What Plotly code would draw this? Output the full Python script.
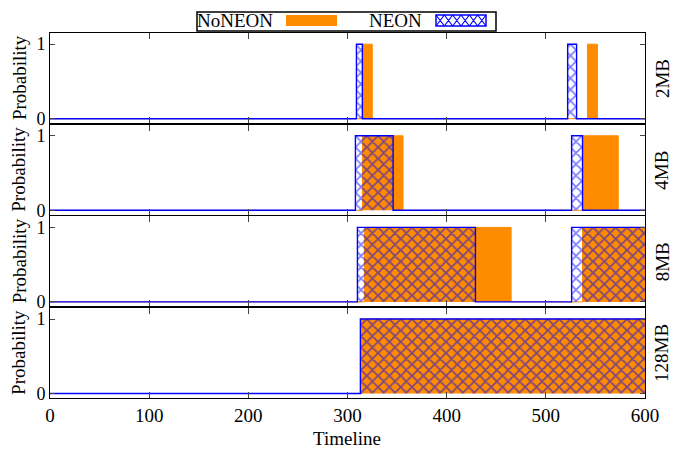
import plotly.graph_objects as go
from plotly.subplots import make_subplots

# ---- data: step change points (timeline) and probability values ----
panel_labels = ["2MB", "4MB", "8MB", "128MB"]

neon_2mb_t = [0, 309, 315, 522, 531, 600]
neon_2mb_p = [0, 1, 0, 1, 0, 0]
noneon_2mb_t = [0, 315, 325, 542, 552, 600]
noneon_2mb_p = [0, 1, 0, 1, 0, 0]

neon_4mb_t = [0, 308, 346, 526, 537, 600]
neon_4mb_p = [0, 1, 0, 1, 0, 0]
noneon_4mb_t = [0, 315, 356, 537, 573, 600]
noneon_4mb_p = [0, 1, 0, 1, 0, 0]

neon_8mb_t = [0, 310, 429, 526, 600]
neon_8mb_p = [0, 1, 0, 1, 1]
noneon_8mb_t = [0, 317, 465, 537, 600]
noneon_8mb_p = [0, 1, 0, 1, 1]

neon_128mb_t = [0, 313, 600]
neon_128mb_p = [0, 1, 1]
noneon_128mb_t = [0, 314, 600]
noneon_128mb_p = [0, 1, 1]

x_ticks = [0, 100, 200, 300, 400, 500, 600]

ORANGE = "#FF8C00"
BLUE = "#0000FF"
FONT = "Liberation Serif"
FS = 19

W, H = 675, 451
ML, MR, MT, MB = 50, 30, 33, 53
PW, PH = W - ML - MR, H - MT - MB


def px(x):
    return (x - ML) / PW


def py(y):
    return (H - MB - y) / PH


panels = [
    (neon_2mb_t, neon_2mb_p, noneon_2mb_t, noneon_2mb_p),
    (neon_4mb_t, neon_4mb_p, noneon_4mb_t, noneon_4mb_p),
    (neon_8mb_t, neon_8mb_p, noneon_8mb_t, noneon_8mb_p),
    (neon_128mb_t, neon_128mb_p, noneon_128mb_t, noneon_128mb_p),
]

fig = make_subplots(rows=4, cols=1, shared_xaxes=True, vertical_spacing=0.004)

for i, (nt, npv, ot, opv) in enumerate(panels, start=1):
    fig.add_trace(go.Scatter(
        x=ot, y=opv, mode="lines", line=dict(shape="hv", color=ORANGE, width=1),
        fill="tozeroy", fillcolor=ORANGE, name="NoNEON", showlegend=False,
        hoverinfo="skip"), row=i, col=1)
    fig.add_trace(go.Scatter(
        x=nt, y=npv, mode="lines", line=dict(shape="hv", color=BLUE, width=1.4),
        fill="tozeroy", fillcolor="rgba(0,0,0,0)",
        fillpattern=dict(shape="x", fgcolor=BLUE, size=8, solidity=0.4),
        name="NEON", showlegend=False, hoverinfo="skip"), row=i, col=1)

for i in range(1, 5):
    fig.update_yaxes(row=i, col=1, range=[-0.06, 1.15], tickvals=[0, 1],
                     ticktext=["0", "1"], ticks="inside", ticklen=5,
                     showline=True, mirror="ticks", linecolor="black",
                     linewidth=1, showgrid=False, zeroline=False,
                     tickfont=dict(family=FONT, size=18, color="black"))
    fig.update_xaxes(row=i, col=1, range=[0, 600], tickvals=x_ticks,
                     ticks="inside", ticklen=6, showline=True, mirror="ticks",
                     linecolor="black", linewidth=1, showgrid=False,
                     zeroline=False, showticklabels=(i == 4),
                     tickfont=dict(family=FONT, size=FS, color="black"))

annotations = []
# y titles and right labels
for i, lab in enumerate(panel_labels, start=1):
    dom = fig.layout["yaxis" if i == 1 else f"yaxis{i}"].domain
    yc = (dom[0] + dom[1]) / 2
    annotations.append(dict(x=px(19), y=yc, xref="paper", yref="paper",
                            text="Probability", textangle=-90, showarrow=False,
                            xanchor="center", yanchor="middle",
                            font=dict(family=FONT, size=FS, color="black")))
    annotations.append(dict(x=px(662), y=yc, xref="paper", yref="paper",
                            text=lab, textangle=-90, showarrow=False,
                            xanchor="center", yanchor="middle",
                            font=dict(family=FONT, size=FS, color="black")))

annotations.append(dict(x=px(347), y=py(438), xref="paper", yref="paper",
                        text="Timeline", showarrow=False, xanchor="center",
                        yanchor="middle",
                        font=dict(family=FONT, size=FS, color="black")))

# legend (manual, gnuplot style: text then sample)
annotations.append(dict(x=px(275), y=py(21), xref="paper", yref="paper",
                        text="NoNEON", showarrow=False, xanchor="right",
                        yanchor="middle",
                        font=dict(family=FONT, size=FS, color="black")))
annotations.append(dict(x=px(424), y=py(21), xref="paper", yref="paper",
                        text="NEON", showarrow=False, xanchor="right",
                        yanchor="middle",
                        font=dict(family=FONT, size=FS, color="black")))

shapes = []
shapes.append(dict(type="rect", xref="paper", yref="paper",
                   x0=px(197), x1=px(496), y0=py(31), y1=py(12),
                   line=dict(color="black", width=1.5), fillcolor="white",
                   layer="above"))
shapes.append(dict(type="rect", xref="paper", yref="paper",
                   x0=px(286), x1=px(337), y0=py(26), y1=py(15),
                   line=dict(color=ORANGE, width=0), fillcolor=ORANGE,
                   layer="above"))
# crosshatch swatch
sx0, sx1, sy0, sy1 = 436, 486, 15, 26
step = (sx1 - sx0) / 6
path = ""
for k in range(6):
    a = sx0 + k * step
    b = a + step
    path += f"M{px(a)},{py(sy0)} L{px(b)},{py(sy1)} "
    path += f"M{px(a)},{py(sy1)} L{px(b)},{py(sy0)} "
shapes.append(dict(type="path", xref="paper", yref="paper", path=path,
                   line=dict(color=BLUE, width=1.2), layer="above"))
shapes.append(dict(type="rect", xref="paper", yref="paper",
                   x0=px(sx0), x1=px(sx1), y0=py(sy1), y1=py(sy0),
                   line=dict(color=BLUE, width=1.5), layer="above"))

fig.update_layout(
    width=W, height=H, margin=dict(l=ML, r=MR, t=MT, b=MB),
    paper_bgcolor="white", plot_bgcolor="white", showlegend=False,
    annotations=annotations, shapes=shapes,
    font=dict(family=FONT, size=FS, color="black"),
)

fig.write_html("out.html")
